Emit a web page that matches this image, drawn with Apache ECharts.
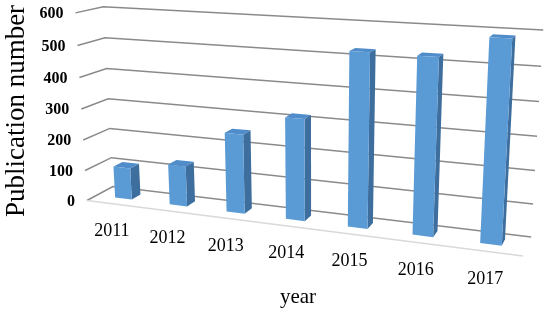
<!DOCTYPE html>
<html>
<head>
<meta charset="utf-8">
<script src="https://cdn.jsdelivr.net/npm/echarts@6/dist/echarts.min.js"></script>
<style>html,body{margin:0;padding:0;background:#fff}#main{width:550px;height:313px}</style>
</head>
<body>
<div id="main"></div>
<script>
var years = ['2011', '2012', '2013', '2014', '2015', '2016', '2017'];
var publications = [104, 131, 251, 316, 526, 525, 588];
var yTicks = [0, 100, 200, 300, 400, 500, 600];

// perspective camera (3x4, last term 1) for the tilted 3D box:
// X = category units, Y = hundreds, Z = 0 back wall .. 1 front edge
var cam = [49.405144, -2.3892645, -29.810197, 112.90756,
           2.6037656, -30.009969, 5.3080909, 186.46544,
           -0.019481685, -0.0075977641, -0.043647350];

function project(X, Y, Z) {
  var w = cam[8] * X + cam[9] * Y + cam[10] * Z + 1;
  return [(cam[0] * X + cam[1] * Y + cam[2] * Z + cam[3]) / w,
          (cam[4] * X + cam[5] * Y + cam[6] * Z + cam[7]) / w];
}

var BAR_W = 0.31, BAR_FRONT = 0.63, BAR_DEPTH = 0.35;
var N = years.length;
var serif = '"Times New Roman", "Liberation Serif", serif';

// hidden cartesian axes -> world units
function toWorld(api, cat, val) {
  var p = api.coord([cat, val]);
  var o = api.coord([0, 0]);
  var band = api.size([1, 0])[0];
  var unit = api.size([0, 100])[1];
  return [(p[0] - o[0]) / band + 0.5, (o[1] - p[1]) / unit];
}

function renderWall(params, api) {
  var Y = toWorld(api, 0, api.value(1))[1];
  var a = project(0, Y, 1), b = project(0, Y, 0), c = project(N, Y, 0);
  var children = [{
    type: 'polyline',
    shape: { points: [a, b, c] },
    style: { stroke: '#8a8a8a', lineWidth: 1.5, fill: null }
  }, {
    type: 'text',
    x: a[0] - 12, y: a[1] + 1,
    style: { text: String(api.value(1)), fill: '#000', font: 'bold 16px ' + serif, align: 'right', verticalAlign: 'middle' }
  }];
  if (Y === 0) {
    var e = project(N, 0, 1);
    children.push({
      type: 'line',
      shape: { x1: a[0], y1: a[1], x2: e[0], y2: e[1] },
      style: { stroke: '#d9d9d9', lineWidth: 1.5 }
    });
  }
  return { type: 'group', children: children };
}

function renderBar(params, api) {
  var X = toWorld(api, api.value(0), 0)[0];
  var top = toWorld(api, api.value(0), api.value(1))[1];
  var x0 = X - BAR_W / 2, x1 = X + BAR_W / 2;
  var zf = BAR_FRONT, zb = BAR_FRONT - BAR_DEPTH;
  return {
    type: 'group',
    children: [{
      type: 'polygon',
      shape: { points: [project(x1, 0, zf), project(x1, 0, zb), project(x1, top, zb), project(x1, top, zf)] },
      style: { fill: '#3d6e9e' }
    }, {
      type: 'polygon',
      shape: { points: [project(x0, top, zf), project(x1, top, zf), project(x1, top, zb), project(x0, top, zb)] },
      style: { fill: '#4f8cc9' }
    }, {
      type: 'polygon',
      shape: { points: [project(x0, 0, zf), project(x1, 0, zf), project(x1, top, zf), project(x0, top, zf)] },
      style: { fill: '#5b9bd5' }
    }]
  };
}

function renderYear(params, api) {
  var X = toWorld(api, api.value(0), 0)[0];
  var p = project(X, 0, 1);
  return {
    type: 'text',
    x: p[0] - 2, y: p[1] + 27.5,
    style: { text: years[params.dataIndex], fill: '#000', font: '18px ' + serif, align: 'center', verticalAlign: 'middle' }
  };
}

var chart = echarts.init(document.getElementById('main'), null, { renderer: 'canvas' });
chart.setOption({
  animation: false,
  grid: { left: 0, top: 0, width: 700, height: 600, show: false },
  xAxis: { type: 'category', data: years, show: false },
  yAxis: { type: 'value', min: 0, max: 600, interval: 100, show: false },
  graphic: [{
    type: 'text', x: 298, y: 297,
    style: { text: 'year', fill: '#000', font: '21px ' + serif, align: 'center', verticalAlign: 'middle' }
  }, {
    type: 'text', x: 17, y: 111, rotation: Math.PI / 2,
    style: { text: 'Publication number', fill: '#000', font: '27px ' + serif, align: 'center', verticalAlign: 'middle' }
  }],
  series: [{
    type: 'custom', clip: false, renderItem: renderWall,
    encode: { x: 0, y: 1 },
    data: yTicks.map(function (t) { return [0, t]; })
  }, {
    type: 'custom', clip: false, renderItem: renderBar,
    encode: { x: 0, y: 1 },
    data: publications.map(function (v, i) { return [i, v]; })
  }, {
    type: 'custom', clip: false, renderItem: renderYear,
    encode: { x: 0, y: 1 },
    data: years.map(function (y, i) { return [i, 0]; })
  }]
});
</script>
</body>
</html>
